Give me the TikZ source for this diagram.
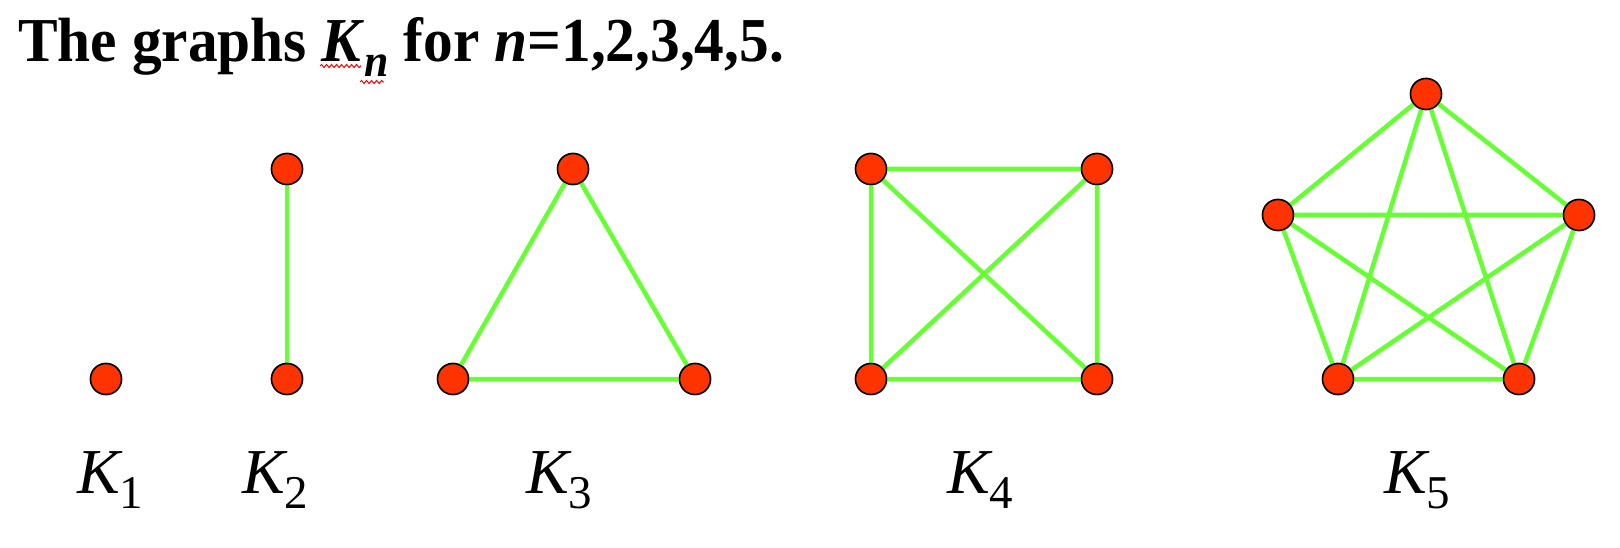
\documentclass[tikz,border=0pt]{standalone}
\usepackage{fontspec}
\setmainfont{Liberation Serif}
\usetikzlibrary{decorations.pathmorphing}
\definecolor{vred}{HTML}{FF3300}
\definecolor{egreen}{HTML}{66FF33}
\tikzset{
  vtx/.style={circle, fill=vred, draw=black, line width=1.5pt, minimum size=31pt, inner sep=0pt},
  edg/.style={draw=egreen, line width=4.5pt},
  lbl/.style={anchor=base west, inner sep=0pt, font=\fontsize{64}{64}\selectfont\itshape},
  spell/.style={draw=red, line width=1pt, decorate, decoration={snake, segment length=5pt, amplitude=1.5pt}}
}
\newcommand{\sbsc}[1]{\raisebox{-15pt}{\upshape\fontsize{47}{47}\selectfont #1}}
\begin{document}
\begin{tikzpicture}[x=1pt,y=-1pt]
\useasboundingbox (0,0) rectangle (1620,548);
% title
\node[anchor=base west, inner sep=0pt, font=\fontsize{62.5}{62.5}\selectfont\bfseries] (title) at (18,62)
  {\scalebox{0.95}[1]{The graphs \textit{K}\raisebox{-15pt}{\fontsize{46}{46}\selectfont\textit{n}} for \textit{n}=1,2,3,4,5.}};
\coordinate (s1a) at (320,66); \coordinate (s1b) at (361,66);
\coordinate (s2a) at (360,82); \coordinate (s2b) at (384,82);
\draw[spell] (s1a) -- (s1b);
\draw[spell] (s2a) -- (s2b);
% K1
\node[vtx] (a1) at (106,379) {};
% K2
\node[vtx] (b1) at (287,169) {};
\node[vtx] (b2) at (287,379) {};
% K3
\node[vtx] (c1) at (573,169) {};
\node[vtx] (c2) at (453,379) {};
\node[vtx] (c3) at (695,379) {};
% K4
\node[vtx] (d1) at (871,169) {};
\node[vtx] (d2) at (1097,169) {};
\node[vtx] (d3) at (871,379) {};
\node[vtx] (d4) at (1097,379) {};
% K5
\node[vtx] (e1) at (1426,94) {};
\node[vtx] (e2) at (1278,215) {};
\node[vtx] (e3) at (1579,215) {};
\node[vtx] (e4) at (1338,379) {};
\node[vtx] (e5) at (1519,379) {};
% edges (nodes redrawn on top afterwards)
\path[edg] (b1.center) -- (b2.center);
\path[edg] (c1.center) -- (c2.center) -- (c3.center) -- cycle;
\path[edg] (d1.center) -- (d2.center) (d1.center) -- (d3.center) (d1.center) -- (d4.center)
           (d2.center) -- (d3.center) (d2.center) -- (d4.center) (d3.center) -- (d4.center);
\path[edg] (e1.center) -- (e2.center) (e1.center) -- (e3.center) (e1.center) -- (e4.center) (e1.center) -- (e5.center)
           (e2.center) -- (e3.center) (e2.center) -- (e4.center) (e2.center) -- (e5.center)
           (e3.center) -- (e4.center) (e3.center) -- (e5.center) (e4.center) -- (e5.center);
\foreach \v in {a1,b1,b2,c1,c2,c3,d1,d2,d3,d4,e1,e2,e3,e4,e5}
  \node[vtx] at (\v) {};
% labels
\node[lbl] (l1) at (77,493) {K\sbsc{1}};
\node[lbl] (l2) at (242,493) {K\sbsc{2}};
\node[lbl] (l3) at (526,493) {K\sbsc{3}};
\node[lbl] (l4) at (947,493) {K\sbsc{4}};
\node[lbl] (l5) at (1384,493) {K\sbsc{5}};
\end{tikzpicture}
\end{document}
